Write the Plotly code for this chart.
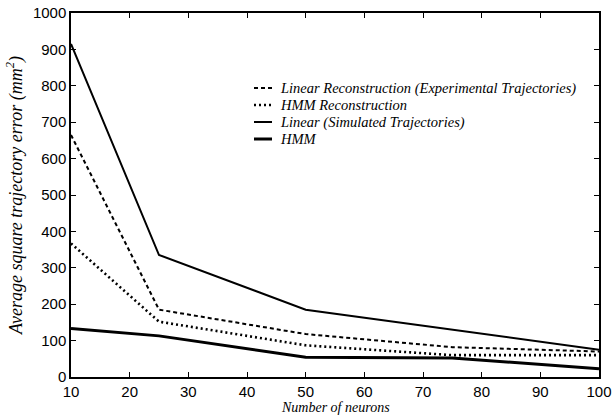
import plotly.graph_objects as go

neurons = [10, 25, 50, 75, 100]
linear_exp = [665, 185, 118, 82, 70]
hmm_recon = [367, 152, 87, 60, 60]
linear_sim = [915, 335, 185, 130, 75]
hmm_sim = [133, 113, 54, 52, 23]

series_names = [
    "Linear Reconstruction (Experimental Trajectories)",
    "HMM Reconstruction",
    "Linear (Simulated Trajectories)",
    "HMM",
]

x_ticks = [10, 20, 30, 40, 50, 60, 70, 80, 90, 100]
y_ticks = [0, 100, 200, 300, 400, 500, 600, 700, 800, 900, 1000]

serif = "Liberation Serif, Times New Roman, serif"
sans = "Liberation Sans, Arial, sans-serif"

styles = [
    dict(color="black", width=2, dash="4px,3px"),
    dict(color="black", width=2.6, dash="2px,3px"),
    dict(color="black", width=2),
    dict(color="black", width=3),
]
values = [linear_exp, hmm_recon, linear_sim, hmm_sim]

fig = go.Figure()
for name, vals, st in zip(series_names, values, styles):
    fig.add_trace(go.Scatter(x=neurons, y=vals, mode="lines", name=name, line=st,
                             showlegend=False))

FW, FH = 613, 419
L, R, T, B = 71, 599, 13, 377
W, H = R - L, B - T

# manual legend (short line samples) in paper coordinates
legend_rows = [88, 105, 122, 139]
x0p, x1p, xtp = 254, 272, 278
for name, st, yp in zip(series_names, styles, legend_rows):
    fig.add_shape(type="line", xref="paper", yref="paper",
                  x0=(x0p - L) / W, x1=(x1p - L) / W,
                  y0=(B - yp) / H, y1=(B - yp) / H,
                  line=st)
    fig.add_annotation(xref="paper", yref="paper", x=(xtp - L) / W, y=(B - yp) / H,
                       text=name, showarrow=False, xanchor="left", yanchor="middle",
                       font=dict(family=serif, size=14.5, color="black", style="italic"))

# x-axis title
fig.add_annotation(xref="paper", yref="paper", x=0.5, y=(B - 407) / H,
                   text="Number of neurons", showarrow=False,
                   xanchor="center", yanchor="middle",
                   font=dict(family=serif, size=14, color="black", style="italic"))

fig.update_layout(
    width=FW, height=FH,
    margin=dict(l=L, r=FW - R, t=T, b=FH - B),
    paper_bgcolor="white", plot_bgcolor="white",
    showlegend=False,
    xaxis=dict(range=[10, 100], tickvals=x_ticks, ticks="inside", ticklen=5,
               tickcolor="black", showline=True, linecolor="black", linewidth=1.5,
               mirror="ticks", showgrid=False, zeroline=False, automargin=False,
               ticklabeloverflow="allow",
               tickfont=dict(family=sans, size=15, color="black")),
    yaxis=dict(range=[0, 1000], tickvals=y_ticks, ticks="inside", ticklen=5,
               tickcolor="black", showline=True, linecolor="black", linewidth=1.5,
               mirror="ticks", showgrid=False, zeroline=False, automargin=False,
               ticklabeloverflow="allow",
               tickfont=dict(family=sans, size=15, color="black"),
               title=dict(text="Average square trajectory error (mm<sup>2</sup>)", standoff=6,
                          font=dict(family=serif, size=18, color="black", style="italic"))),
)

fig.write_html("out.html", config={"displayModeBar": False},
               post_script="document.body.style.margin='0';document.body.style.overflow='hidden';")
